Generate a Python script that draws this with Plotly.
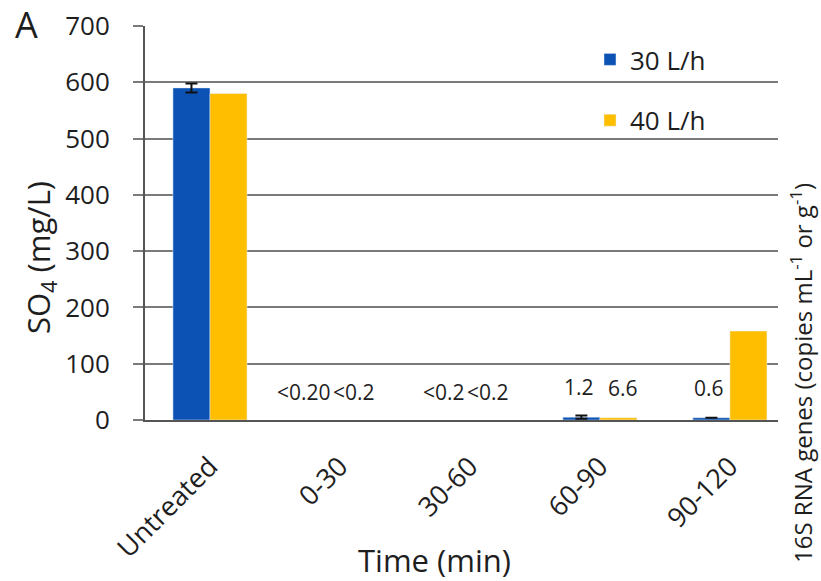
import plotly.graph_objects as go

categories = ["Untreated", "0-30", "30-60", "60-90", "90-120"]
# None = below detection (<0.2), no visible bar
so4_30 = [590, None, None, 5, 4]
so4_40 = [580, None, None, 4, 158]
err_30 = [8, None, None, 3, 0.01]
labels_30 = ["", "<0.20", "<0.2", "1.2", "0.6"]
labels_40 = ["", "<0.2", "<0.2", "6.6", ""]

BLUE = "#0B52B4"
GOLD = "#FFBF00"
FONT = "Open Sans"
TXT = "#1e1e1e"

L, R, T, B = 145, 43, 26, 161
W, H = 821, 581
PW, PH = W - L - R, H - T - B


def px(x):
    return (x - L) / PW


def py(y):
    return (H - B - y) / PH


fig = go.Figure()
fig.add_trace(go.Bar(
    x=categories, y=so4_30, name="30 L/h", marker_color=BLUE,
    legendgroup="a",
    error_y=dict(type="data", array=err_30, visible=True, color="#111", thickness=2, width=6),
))
fig.add_trace(go.Bar(
    x=categories, y=so4_40, name="40 L/h", marker_color=GOLD,
    legendgroup="b",
))

LF = dict(family=FONT, size=21, color=TXT)
anns = []
for i, c in enumerate(categories):
    l1, l2 = labels_30[i], labels_40[i]
    if l1.startswith("<"):
        sh = -8 if i == 1 else -4
        anns.append(dict(x=c, y=0, text=l1, showarrow=False, xanchor="right", yanchor="middle",
                         xshift=sh + 1, yshift=28, font=LF))
        anns.append(dict(x=c, y=0, text=l2, showarrow=False, xanchor="left", yanchor="middle",
                         xshift=sh - 1, yshift=28, font=LF))
    else:
        if l1:
            anns.append(dict(x=c, y=so4_30[i], text=l1, showarrow=False, xanchor="center", yanchor="middle",
                             xshift=-21, yshift=30, font=LF))
        if l2:
            anns.append(dict(x=c, y=so4_40[i], text=l2, showarrow=False, xanchor="center", yanchor="middle",
                             xshift=23, yshift=30, font=LF))

# panel letter, axis titles
anns.append(dict(xref="paper", yref="paper", x=px(26), y=py(24), text="A", showarrow=False,
                 xanchor="center", yanchor="middle", font=dict(family=FONT, size=36, color=TXT)))
anns.append(dict(xref="paper", yref="paper", x=px(40), y=py(258), text="SO<sub>4</sub> (mg/L)",
                 showarrow=False, textangle=-90, xanchor="center", yanchor="middle",
                 font=dict(family=FONT, size=31, color=TXT)))
anns.append(dict(xref="paper", yref="paper", x=px(434), y=py(560), text="Time (min)",
                 showarrow=False, xanchor="center", yanchor="middle",
                 font=dict(family=FONT, size=31, color=TXT)))
anns.append(dict(xref="paper", yref="paper", x=px(801), y=py(373),
                 text="16S RNA genes (copies mL<sup>-1</sup> or g<sup>-1</sup>)",
                 showarrow=False, textangle=-90, xanchor="center", yanchor="middle",
                 font=dict(family=FONT, size=24, color=TXT)))

fig.update_layout(
    width=W, height=H,
    margin=dict(l=L, r=R, t=T, b=B, autoexpand=False),
    paper_bgcolor="white", plot_bgcolor="white",
    barmode="group", bargap=0.43, bargroupgap=0,
    font=dict(family=FONT, color=TXT),
    showlegend=True,
    legend=dict(x=px(590), y=py(36), xanchor="left", yanchor="top", bgcolor="rgba(0,0,0,0)",
                font=dict(family=FONT, size=26, color=TXT), tracegroupgap=24,
                itemwidth=30),
    annotations=anns,
    xaxis=dict(
        range=[-0.5, 4.37], tickangle=-45, tickfont=dict(family=FONT, size=27, color=TXT),
        showline=True, linecolor="#555", linewidth=2, ticks="", automargin=False,
        ticklabelstandoff=18,
    ),
    yaxis=dict(
        range=[0, 700], dtick=100, tickfont=dict(family=FONT, size=26, color=TXT),
        showgrid=True, gridcolor="#7a7a7a", gridwidth=1.5,
        showline=True, linecolor="#555", linewidth=2,
        ticks="outside", ticklen=10, tickcolor="#7a7a7a", tickwidth=1.5,
        zeroline=False, ticklabelstandoff=18, automargin=False,
    ),
)

fig.write_html("out.html", config={"displayModeBar": False},
               post_script="document.body.style.margin='0';")
